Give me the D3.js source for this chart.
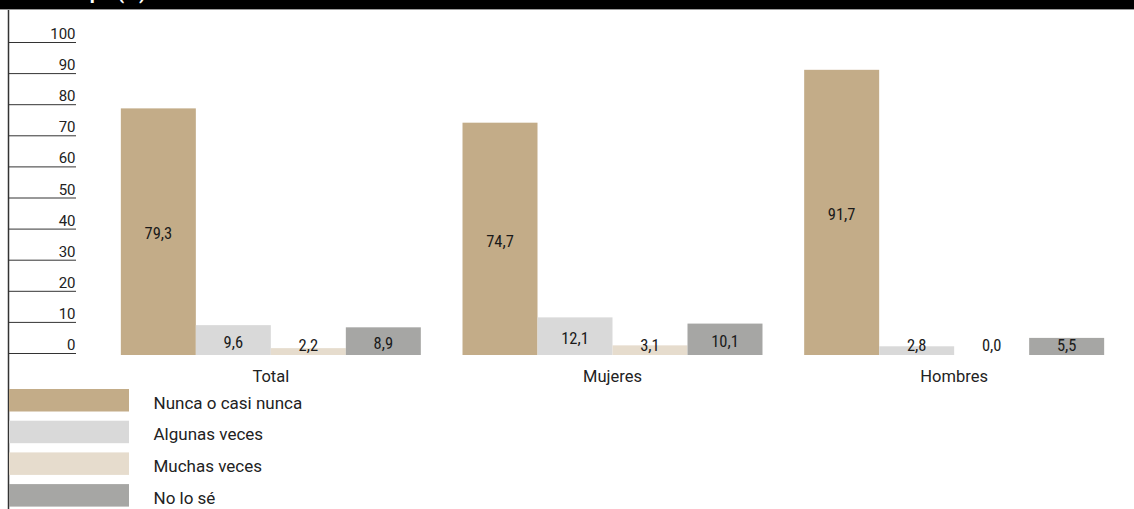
<!DOCTYPE html>
<html>
<head>
<meta charset="utf-8">
<script src="https://cdn.jsdelivr.net/npm/d3@7"></script>
<style>
  html, body { margin: 0; padding: 0; background: #fff; }
  svg { display: block; }
  .num { font-family: "Liberation Sans Narrow", "Roboto Condensed", Roboto, sans-serif; }
</style>
</head>
<body>
<svg id="chart" width="1134" height="509"></svg>
<script>
// Groups, answer categories and percentages
const groups = ["Total", "Mujeres", "Hombres"];
const answers = ["Nunca o casi nunca", "Algunas veces", "Muchas veces", "No lo sé"];
const nunca    = [79.3, 74.7, 91.7];
const algunas  = [9.6, 12.1, 2.8];
const muchas   = [2.2, 3.1, 0.0];
const noLoSe   = [8.9, 10.1, 5.5];
const yTicks = [0, 10, 20, 30, 40, 50, 60, 70, 80, 90, 100];
const colors = ["#c3ac88", "#d9d9d9", "#e6dccd", "#a6a6a4"];

const seriesValues = [nunca, algunas, muchas, noLoSe];
const rows = groups.map((g, i) => ({
  group: g,
  values: answers.map((a, k) => ({ answer: a, value: seriesValues[k][i], k }))
}));

const svg = d3.select("#chart");
const fmt = v => d3.format(".1f")(v).replace(".", ",");

// Title band (title sits above the top edge, only its descenders show)
svg.append("rect").attr("x", 0).attr("y", 0).attr("width", 1134).attr("height", 9).attr("fill", "#000");
svg.append("line").attr("x1", 0).attr("x2", 1134).attr("y1", 9.5).attr("y2", 9.5)
  .attr("stroke", "#9a9a9a").attr("stroke-width", 1);
svg.append("text").attr("x", 146).attr("y", -1).attr("text-anchor", "end")
  .attr("fill", "#fff").attr("font-family", "Roboto, sans-serif").attr("font-weight", 700)
  .attr("font-size", 20).text("Grupo (%)");

// Scales
const y = d3.scaleLinear().domain([0, 100]).range([355, 44]);
const x0 = d3.scaleBand().domain(groups).range([100, 1125]).paddingInner(0.122).paddingOuter(0.061);
const x1 = d3.scaleBand().domain(answers).range([0, x0.bandwidth()]).padding(0);

// Left rule
svg.append("line").attr("x1", 8.5).attr("x2", 8.5).attr("y1", 10).attr("y2", 509)
  .attr("stroke", "#333").attr("stroke-width", 1.5);

// Y axis: label with a rule beneath each tick value
const yAxis = svg.append("g").attr("class", "y-axis");
const tick = yAxis.selectAll("g").data(yTicks).join("g")
  .attr("transform", d => `translate(0,${y(d) - 1.5})`);
tick.append("line").attr("x1", 8).attr("x2", 76).attr("stroke", "#333").attr("stroke-width", 1);
tick.append("text").attr("x", 75.5).attr("y", -3.5).attr("text-anchor", "end")
  .attr("font-family", "Roboto, sans-serif").attr("font-size", 15).attr("fill", "#222")
  .text(d => d);

// Bars
const g = svg.append("g").selectAll("g").data(rows).join("g")
  .attr("transform", d => `translate(${x0(d.group)},0)`);

g.selectAll("rect").data(d => d.values).join("rect")
  .attr("x", d => x1(d.answer))
  .attr("y", d => y(d.value))
  .attr("width", x1.bandwidth())
  .attr("height", d => y(0) - y(d.value))
  .attr("fill", d => colors[d.k]);

g.selectAll("text.val").data(d => d.values).join("text")
  .attr("class", "val num")
  .attr("x", d => x1(d.answer) + x1.bandwidth() / 2)
  .attr("y", d => Math.min((y(d.value) + y(0)) / 2 + 2, y(0) - 10))
  .attr("dy", "0.35em")
  .attr("text-anchor", "middle")
  .attr("font-size", 16.5)
  .attr("fill", "#1a1a1a")
  .text(d => fmt(d.value));

// Group labels
svg.append("g").selectAll("text").data(groups).join("text")
  .attr("x", d => x0(d) + x0.bandwidth() / 2)
  .attr("y", 381.5)
  .attr("text-anchor", "middle")
  .attr("font-family", "Roboto, sans-serif").attr("font-size", 16.5).attr("fill", "#222")
  .text(d => d);

// Legend
const legend = svg.append("g").selectAll("g").data(answers).join("g")
  .attr("transform", (d, i) => `translate(9,${389 + i * 31.7})`);
legend.append("rect").attr("width", 120).attr("height", 22.5).attr("fill", (d, i) => colors[i]);
legend.append("text").attr("x", 144.5).attr("y", 19.5)
  .attr("font-family", "Roboto, sans-serif").attr("font-size", 17).attr("fill", "#222")
  .text(d => d);
</script>
</body>
</html>
